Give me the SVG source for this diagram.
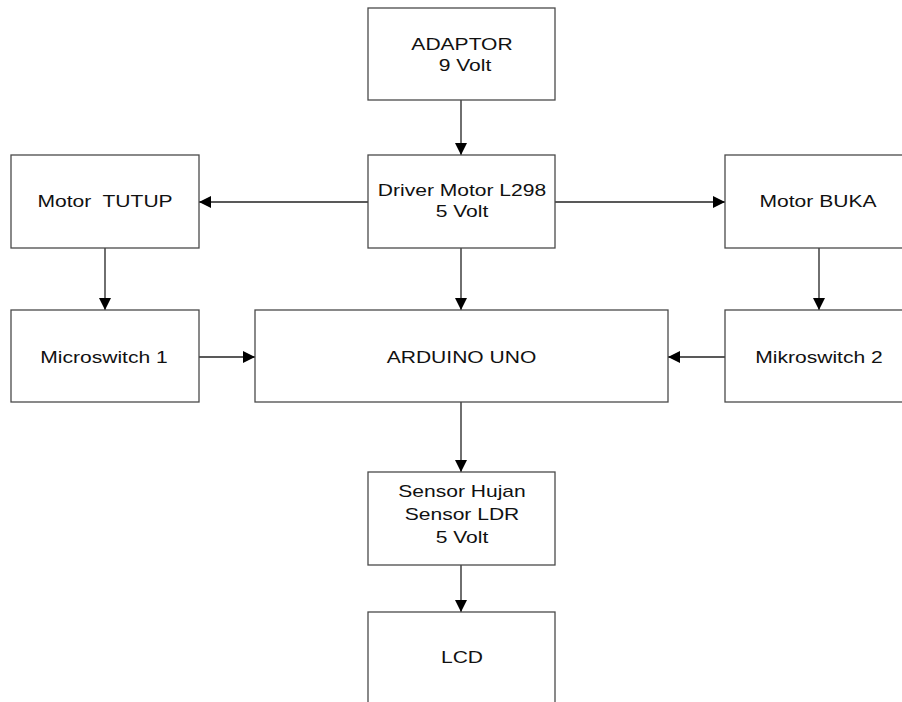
<svg xmlns="http://www.w3.org/2000/svg" width="902" height="702" viewBox="0 0 902 702">
<style>
.box{fill:#fff;stroke:#4a4a4a;stroke-width:1.3}
.lbl{font-family:"Liberation Sans",Arial,sans-serif;font-size:16.2px;fill:#111;text-anchor:middle;white-space:pre}
.con{stroke:#222;stroke-width:1.3;fill:none;marker-end:url(#ah)}
</style>
<defs>
<marker id="ah" markerUnits="userSpaceOnUse" markerWidth="13" markerHeight="12" refX="12" refY="6" orient="auto">
<path d="M0,0 L12,6 L0,12 Z" fill="#000"/>
</marker>
</defs>
<rect width="902" height="702" fill="#fff"/>
<g id="connectors">
<line class="con" x1="461" y1="100" x2="461" y2="155"/>
<line class="con" x1="368" y1="202" x2="199" y2="202"/>
<line class="con" x1="555" y1="202" x2="725" y2="202"/>
<line class="con" x1="105" y1="248" x2="105" y2="310"/>
<line class="con" x1="819" y1="248" x2="819" y2="310"/>
<line class="con" x1="461" y1="248" x2="461" y2="310"/>
<line class="con" x1="199" y1="357" x2="255" y2="357"/>
<line class="con" x1="725" y1="357" x2="668" y2="357"/>
<line class="con" x1="461" y1="402" x2="461" y2="472"/>
<line class="con" x1="461" y1="565" x2="461" y2="612"/>
</g>
<g id="adaptor">
<rect class="box" x="368" y="8" width="187" height="92"/>
<text class="lbl" transform="translate(462,50) scale(1.3,1)">ADAPTOR</text>
<text class="lbl" transform="translate(465,71) scale(1.3,1)">9 Volt</text>
</g>
<g id="driver">
<rect class="box" x="368" y="155" width="187" height="93"/>
<text class="lbl" transform="translate(462,196) scale(1.3,1)">Driver Motor L298</text>
<text class="lbl" transform="translate(462,217) scale(1.3,1)">5 Volt</text>
</g>
<g id="motor-tutup">
<rect class="box" x="11" y="155" width="188" height="93"/>
<text class="lbl" transform="translate(105,207) scale(1.3,1)">Motor  TUTUP</text>
</g>
<g id="motor-buka">
<rect class="box" x="725" y="155" width="188" height="93"/>
<text class="lbl" transform="translate(818,207) scale(1.3,1)">Motor BUKA</text>
</g>
<g id="microswitch1">
<rect class="box" x="11" y="310" width="188" height="92"/>
<text class="lbl" transform="translate(104,363) scale(1.3,1)">Microswitch 1</text>
</g>
<g id="arduino">
<rect class="box" x="255" y="310" width="413" height="92"/>
<text class="lbl" transform="translate(461.5,363) scale(1.3,1)">ARDUINO UNO</text>
</g>
<g id="mikroswitch2">
<rect class="box" x="725" y="310" width="188" height="92"/>
<text class="lbl" transform="translate(819,363) scale(1.3,1)">Mikroswitch 2</text>
</g>
<g id="sensor">
<rect class="box" x="368" y="472" width="187" height="93"/>
<text class="lbl" transform="translate(462,497) scale(1.3,1)">Sensor Hujan</text>
<text class="lbl" transform="translate(462,520) scale(1.3,1)">Sensor LDR</text>
<text class="lbl" transform="translate(462,543) scale(1.3,1)">5 Volt</text>
</g>
<g id="lcd">
<rect class="box" x="368" y="612" width="187" height="100"/>
<text class="lbl" transform="translate(462,663) scale(1.3,1)">LCD</text>
</g>
</svg>
